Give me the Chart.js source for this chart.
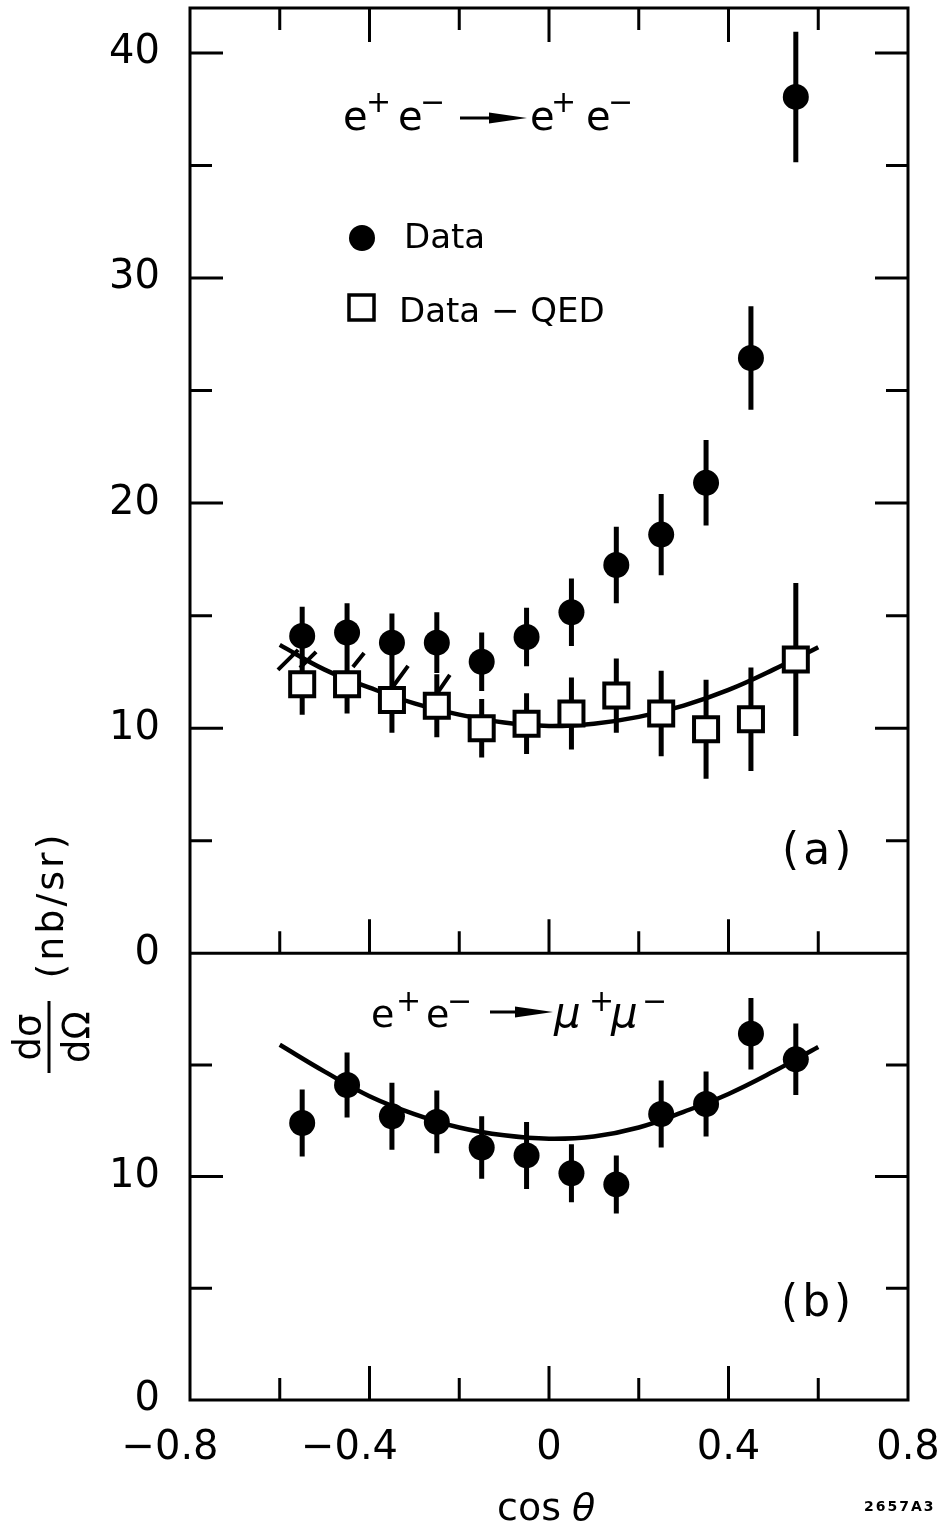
<!DOCTYPE html>
<html>
<head>
<meta charset="utf-8">
<script src="https://cdn.jsdelivr.net/npm/chart.js@4.4.0/dist/chart.umd.min.js"></script>
<style>
  html, body { margin: 0; padding: 0; background: #fff; }
</style>
</head>
<body>
<canvas id="c" width="948" height="1530"></canvas>
<script>
// cos(theta) bin centres
const cosBins = [-0.55, -0.45, -0.35, -0.25, -0.15, -0.05, 0.05, 0.15, 0.25, 0.35, 0.45, 0.55]

// (a) e+e- -> e+e-  (nb/sr)
const eeData = [14.1, 14.25, 13.8, 13.8, 12.95, 14.05, 15.15, 17.25, 18.6, 20.9, 26.45, 38.05]
const eeDataErr = [1.3, 1.3, 1.3, 1.35, 1.3, 1.3, 1.5, 1.7, 1.8, 1.9, 2.3, 2.9]
const eeMinusQed = [11.95, 11.95, 11.25, 11.0, 10.0, 10.2, 10.65, 11.45, 10.65, 9.95, 10.4, 13.05]
const eeMinusQedErr = [1.35, 1.3, 1.45, 1.4, 1.3, 1.35, 1.6, 1.65, 1.9, 2.2, 2.3, 3.4]

// smooth curves, every 0.1 in cos theta
const curveX = [-0.6, -0.5, -0.4, -0.3, -0.2, -0.1, 0, 0.1, 0.2, 0.3, 0.4, 0.5, 0.6]
const eeCurve = [13.7, 12.6, 11.8, 11.1, 10.6, 10.25, 10.1, 10.2, 10.5, 11.0, 11.7, 12.6, 13.6]

// (b) e+e- -> mu+mu-
const mumuData = [12.4, 14.1, 12.7, 12.45, 11.3, 10.95, 10.15, 9.65, 12.8, 13.25, 16.4, 15.25]
const mumuErr = [1.5, 1.45, 1.5, 1.4, 1.4, 1.5, 1.3, 1.3, 1.5, 1.45, 1.6, 1.6]
const mumuCurve = [15.9, 14.7, 13.6, 12.8, 12.2, 11.85, 11.7, 11.8, 12.2, 12.9, 13.7, 14.7, 15.8]

// little slanted strokes beside the first Data-QED squares: [x1, y1, x2, y2]
const slashes = [
  [-0.604, 12.59, -0.559, 13.48],
  [-0.555, 12.68, -0.519, 13.39],
  [-0.437, 12.72, -0.412, 13.34],
  [-0.348, 11.84, -0.314, 12.77],
  [-0.247, 11.61, -0.221, 12.37]
]

// ticks
const xLabelTicks = [-0.8, -0.4, 0, 0.4, 0.8]
const xMarkTicks = [-0.6, -0.4, -0.2, 0, 0.2, 0.4, 0.6]
const topLabelTicks = [0, 10, 20, 30, 40]
const topMarkTicks = [5, 10, 15, 20, 25, 30, 35, 40]
const botLabelTicks = [0, 10]
const botMarkTicks = [5, 10, 15]

const FAMILY = "'DejaVu Sans', sans-serif"
const black = '#000'

const pts = (xs, ys) => xs.map((x, i) => ({ x: x, y: ys[i] }))

// negative labels hang left of the tick, like the original lettering
function fmtX(v) {
  if (v === 0) return '0'
  if (v < 0) return '\u2212' + Math.abs(v).toFixed(1) + '\u2003'
  return v.toFixed(1)
}

function noPad(s) {
  s.paddingTop = 0
  s.paddingBottom = 0
  s.paddingLeft = 0
  s.paddingRight = 0
}

// error bars + the slanted strokes, under the markers
const errorBars = {
  id: 'errorBars',
  beforeDatasetsDraw(chart) {
    const { ctx } = chart
    const { x, yTop, yBot } = chart.scales
    ctx.save()
    ctx.strokeStyle = black
    ctx.lineWidth = 5
    ctx.beginPath()
    const bars = [[eeData, eeDataErr, yTop], [eeMinusQed, eeMinusQedErr, yTop], [mumuData, mumuErr, yBot]]
    bars.forEach(([vals, errs, ys]) => {
      cosBins.forEach((c, i) => {
        const px = x.getPixelForValue(c)
        ctx.moveTo(px, ys.getPixelForValue(vals[i] - errs[i]))
        ctx.lineTo(px, ys.getPixelForValue(vals[i] + errs[i]))
      })
    })
    ctx.stroke()
    ctx.lineWidth = 4
    ctx.beginPath()
    slashes.forEach(s => {
      ctx.moveTo(x.getPixelForValue(s[0]), yTop.getPixelForValue(s[1]))
      ctx.lineTo(x.getPixelForValue(s[2]), yTop.getPixelForValue(s[3]))
    })
    ctx.stroke()
    ctx.restore()
  }
}

function put(ctx, str, px, py, size, style) {
  ctx.font = (style || 'normal') + ' ' + size + 'px ' + FAMILY
  ctx.fillText(str, px, py)
}

function arrow(ctx, x1, x2, y) {
  ctx.lineWidth = 3
  ctx.beginPath()
  ctx.moveTo(x1, y)
  ctx.lineTo(x2 - 30, y)
  ctx.stroke()
  ctx.beginPath()
  ctx.moveTo(x2, y)
  ctx.lineTo(x2 - 38, y - 5.5)
  ctx.lineTo(x2 - 38, y + 5.5)
  ctx.closePath()
  ctx.fill()
}

// frame, inward ticks and all the lettering
const frame = {
  id: 'frame',
  afterDraw(chart) {
    const { ctx, chartArea } = chart
    const { x, yTop, yBot } = chart.scales
    const L = chartArea.left, R = chartArea.right
    ctx.save()
    ctx.strokeStyle = black
    ctx.fillStyle = black
    ctx.lineWidth = 3
    ctx.strokeRect(L, yTop.top, R - L, yBot.bottom - yTop.top)
    ctx.beginPath()
    ctx.moveTo(L, yTop.bottom)
    ctx.lineTo(R, yTop.bottom)
    topMarkTicks.forEach(v => {
      const py = yTop.getPixelForValue(v)
      const len = topLabelTicks.includes(v) ? 33 : 22
      ctx.moveTo(L, py); ctx.lineTo(L + len, py)
      ctx.moveTo(R, py); ctx.lineTo(R - len, py)
    })
    botMarkTicks.forEach(v => {
      const py = yBot.getPixelForValue(v)
      const len = botLabelTicks.includes(v) ? 33 : 22
      ctx.moveTo(L, py); ctx.lineTo(L + len, py)
      ctx.moveTo(R, py); ctx.lineTo(R - len, py)
    })
    xMarkTicks.forEach(v => {
      const px = x.getPixelForValue(v)
      const len = xLabelTicks.includes(v) ? 34 : 22
      ctx.moveTo(px, yTop.top); ctx.lineTo(px, yTop.top + len)
      ctx.moveTo(px, yTop.bottom); ctx.lineTo(px, yTop.bottom - len)
      ctx.moveTo(px, yBot.bottom); ctx.lineTo(px, yBot.bottom - len)
    })
    ctx.stroke()

    ctx.textAlign = 'left'
    ctx.textBaseline = 'alphabetic'

    // e+e- -> e+e-
    put(ctx, 'e', 343, 130, 40)
    put(ctx, '+', 366, 112, 30)
    put(ctx, 'e', 398, 130, 40)
    put(ctx, '\u2212', 420, 112, 30)
    arrow(ctx, 460, 527, 118)
    put(ctx, 'e', 530, 130, 40)
    put(ctx, '+', 551, 112, 30)
    put(ctx, 'e', 586, 130, 40)
    put(ctx, '\u2212', 608, 112, 30)

    // legend
    ctx.beginPath()
    ctx.arc(362, 238, 13, 0, Math.PI * 2)
    ctx.fill()
    put(ctx, 'Data', 404, 248, 34)
    ctx.lineWidth = 3.5
    ctx.strokeRect(349, 295, 25, 25)
    put(ctx, 'Data \u2212 QED', 399, 322, 34)

    // panel tags
    ctx.letterSpacing = '4px'
    put(ctx, '(a)', 782, 864, 44)
    put(ctx, '(b)', 781, 1316, 44)
    ctx.letterSpacing = '0px'

    // e+e- -> mu+mu-
    put(ctx, 'e', 371, 1027, 38)
    put(ctx, '+', 396, 1011, 30)
    put(ctx, 'e', 426, 1027, 38)
    put(ctx, '\u2212', 447, 1011, 30)
    arrow(ctx, 490, 553, 1012)
    put(ctx, '\u03bc', 554, 1027, 42, 'italic')
    put(ctx, '+', 589, 1011, 30)
    put(ctx, '\u03bc', 611, 1027, 42, 'italic')
    put(ctx, '\u2212', 642, 1011, 30)

    // y title, rotated
    ctx.save()
    ctx.translate(50, 905)
    ctx.rotate(-Math.PI / 2)
    ctx.textAlign = 'center'
    ctx.letterSpacing = '3px'
    put(ctx, '(nb/sr)', 0, 13, 38)
    ctx.restore()
    ctx.save()
    ctx.translate(49, 1037)
    ctx.rotate(-Math.PI / 2)
    ctx.textAlign = 'center'
    put(ctx, 'd\u03c3', 0, -9, 37)
    put(ctx, 'd\u03a9', 0, 40, 37)
    ctx.lineWidth = 3
    ctx.beginPath()
    ctx.moveTo(-36, 0)
    ctx.lineTo(36, 0)
    ctx.stroke()
    ctx.restore()

    // x title
    put(ctx, 'cos', 497, 1520, 38)
    put(ctx, '\u03b8', 572, 1520, 38, 'italic')

    ctx.letterSpacing = '2px'
    put(ctx, '2657A3', 864, 1511, 14, 'bold')
    ctx.restore()
  }
}

const tickFont = { family: FAMILY, size: 40 }

new Chart(document.getElementById('c'), {
  type: 'scatter',
  data: {
    datasets: [
      {
        data: pts(cosBins, eeData), xAxisID: 'x', yAxisID: 'yTop',
        pointStyle: 'circle', pointRadius: 13, backgroundColor: black, borderWidth: 0
      },
      {
        data: pts(cosBins, eeMinusQed), xAxisID: 'x', yAxisID: 'yTop',
        pointStyle: 'rect', pointRadius: 17, backgroundColor: '#fff', borderColor: black, borderWidth: 4
      },
      {
        data: pts(cosBins, mumuData), xAxisID: 'x', yAxisID: 'yBot',
        pointStyle: 'circle', pointRadius: 13, backgroundColor: black, borderWidth: 0
      },
      {
        data: pts(curveX, eeCurve), xAxisID: 'x', yAxisID: 'yTop',
        showLine: true, tension: 0.4, pointRadius: 0, borderColor: black, borderWidth: 4.5, fill: false
      },
      {
        data: pts(curveX, mumuCurve), xAxisID: 'x', yAxisID: 'yBot',
        showLine: true, tension: 0.4, pointRadius: 0, borderColor: black, borderWidth: 4.5, fill: false
      }
    ]
  },
  options: {
    responsive: false,
    devicePixelRatio: 1,
    animation: false,
    events: [],
    layout: { autoPadding: false, padding: { top: 8, right: 40, left: 0, bottom: 0 } },
    plugins: { legend: { display: false }, tooltip: { enabled: false } },
    scales: {
      x: {
        type: 'linear', position: 'bottom', min: -0.8, max: 0.8,
        grid: { display: false, drawTicks: false }, border: { display: false },
        afterBuildTicks: s => { s.ticks = xLabelTicks.map(v => ({ value: v })) },
        afterFit: s => { s.height = 130; noPad(s) },
        ticks: { font: tickFont, color: black, padding: 25, maxRotation: 0, autoSkip: false, callback: v => fmtX(v) }
      },
      yBot: {
        type: 'linear', position: 'left', stack: 'panels', stackWeight: 19.9, min: 0, max: 20,
        grid: { display: false, drawTicks: false }, border: { display: false },
        afterBuildTicks: s => { s.ticks = botLabelTicks.map(v => ({ value: v })) },
        afterFit: s => { s.width = 190; noPad(s) },
        ticks: { font: tickFont, color: black, padding: 30, autoSkip: false }
      },
      yTop: {
        type: 'linear', position: 'left', stack: 'panels', stackWeight: 42.1, min: 0, max: 42,
        grid: { display: false, drawTicks: false }, border: { display: false },
        afterBuildTicks: s => { s.ticks = topLabelTicks.map(v => ({ value: v })) },
        afterFit: s => { s.width = 190; noPad(s) },
        ticks: { font: tickFont, color: black, padding: 30, autoSkip: false }
      }
    }
  },
  plugins: [errorBars, frame]
})
</script>
</body>
</html>
